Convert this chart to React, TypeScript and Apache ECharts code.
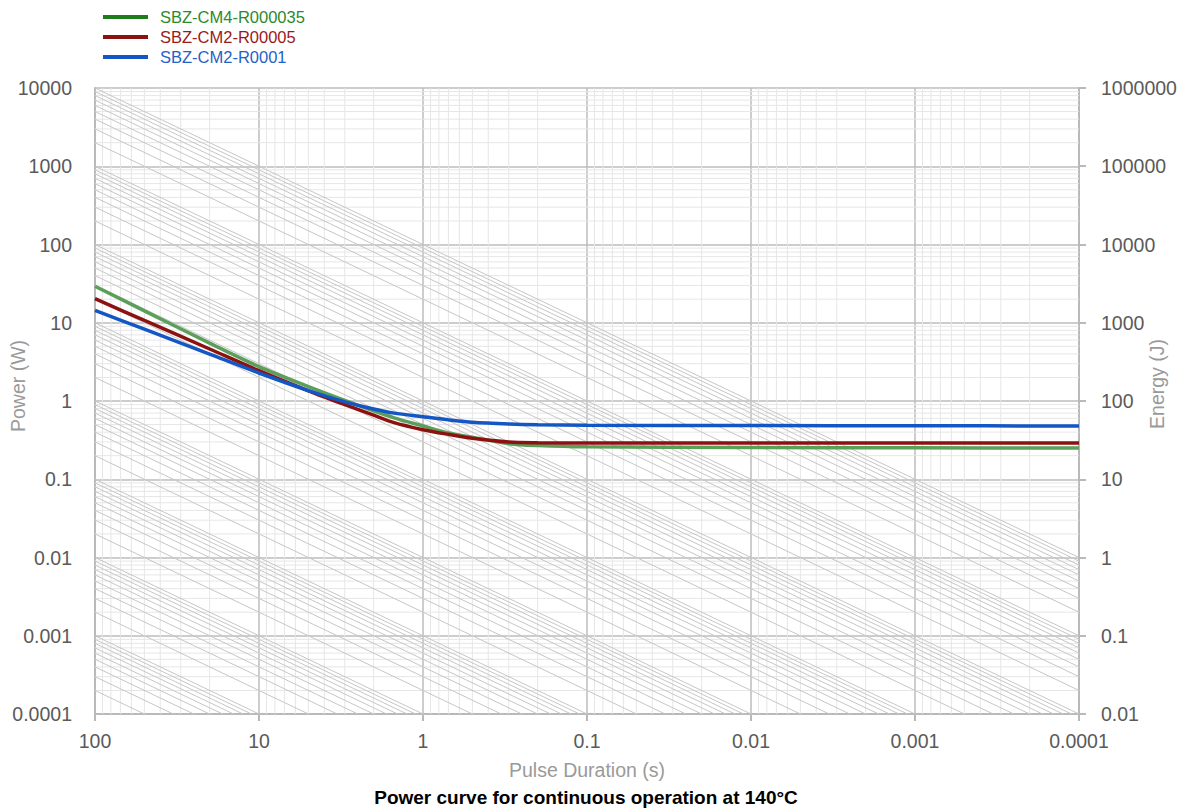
import React, { useEffect, useRef } from "react";
import * as echarts from "echarts";

// ---- Data ----
// Pulse durations (s) at which the three curves were read
const pulseDurations = [100, 50, 20, 10, 5, 3, 2, 1.5, 1, 0.7, 0.5, 0.3, 0.2, 0.1, 0.01, 0.001, 0.0001];
// Power (W)
const powerCM4R000035 = [29.3, 14.2, 5.5, 2.75, 1.53, 1.02, 0.75, 0.61, 0.48, 0.39, 0.345, 0.285, 0.27, 0.26, 0.255, 0.252, 0.25];
const powerCM2R00005 = [20.3, 10.7, 4.62, 2.44, 1.35, 0.9, 0.66, 0.53, 0.43, 0.375, 0.335, 0.3, 0.293, 0.29, 0.29, 0.29, 0.29];
const powerCM2R0001 = [14.4, 8.27, 3.97, 2.28, 1.36, 0.975, 0.79, 0.7, 0.63, 0.575, 0.535, 0.508, 0.497, 0.49, 0.485, 0.482, 0.48];

const seriesNames = ["SBZ-CM4-R000035", "SBZ-CM2-R00005", "SBZ-CM2-R0001"];

// Tick labels
const durationTickLabels = ["100", "10", "1", "0.1", "0.01", "0.001", "0.0001"];
const powerTickLabels = ["0.0001", "0.001", "0.01", "0.1", "1", "10", "100", "1000", "10000"];
const energyTickLabels = ["0.01", "0.1", "1", "10", "100", "1000", "10000", "100000", "1000000"];

// Log-paper grid construction
const minorMultipliers = [2, 3, 4, 5, 6, 7, 8, 9];
const durationDecades = [-4, -3, -2, -1, 0, 1];
const powerDecades = [-4, -3, -2, -1, 0, 1, 2, 3];
const refLineMultipliers = [1, 2, 3, 4, 5, 6, 7, 8, 9];
const refLineTopStart = 10000;

const X_MIN = 0.0001, X_MAX = 100, Y_MIN = 0.0001, Y_MAX = 10000;

function pickLabel(labels: string[], v: number) {
  const lv = Math.log10(v);
  const hit = labels.find((l) => Math.abs(Math.log10(parseFloat(l)) - lv) < 1e-6);
  return hit ?? "";
}

const FONT = "'Liberation Sans', Arial, Helvetica, sans-serif";

export default function App() {
  const ref = useRef<HTMLDivElement>(null);

  useEffect(() => {
    const chart = echarts.init(ref.current!, null, { renderer: "svg" });

    const minorSeries: any[] = [];
    durationDecades.forEach((d) =>
      minorMultipliers.forEach((m) => {
        const x = m * Math.pow(10, d);
        minorSeries.push({
          type: "line", silent: true, symbol: "none", z: 1, animation: false,
          lineStyle: { color: "#e6e6e6", width: 1 },
          data: [[x, Y_MIN], [x, Y_MAX]],
        });
      })
    );
    powerDecades.forEach((d) =>
      minorMultipliers.forEach((m) => {
        const y = m * Math.pow(10, d);
        minorSeries.push({
          type: "line", silent: true, symbol: "none", z: 1, animation: false,
          lineStyle: { color: "#e6e6e6", width: 1 },
          data: [[X_MIN, y], [X_MAX, y]],
        });
      })
    );

    const refStarts: number[] = [refLineTopStart];
    powerDecades.forEach((d) => refLineMultipliers.forEach((m) => refStarts.push(m * Math.pow(10, d))));
    const refSeries = refStarts.map((v) => ({
      type: "line", silent: true, symbol: "none", z: 2, animation: false, clip: true,
      lineStyle: { color: "#c6c6c6", width: 1 },
      data: [[X_MAX, v], [X_MIN, v * (X_MIN / X_MAX)]],
    }));

    const curveColors = ["#5b9f5b", "#8c1212", "#1456c4"];
    const curveData = [powerCM4R000035, powerCM2R00005, powerCM2R0001];
    const curves = seriesNames.map((name, i) => ({
      name, type: "line", symbol: "none", smooth: 0.3, z: 5, animation: false,
      lineStyle: { color: curveColors[i], width: 3.5 },
      itemStyle: { color: curveColors[i] },
      data: pulseDurations.map((t, j) => [t, curveData[i][j]]),
    }));

    const legendLine = ["#1d7d1d", "#8c1212", "#1456c4"];
    const legendText = ["#2b8a2b", "#9a1a1a", "#1f62c8"];

    const option: any = {
      animation: false,
      backgroundColor: "#ffffff",
      textStyle: { fontFamily: FONT },
      grid: { left: 95, right: 104, top: 88, bottom: 95, outerBoundsMode: "none" },
      title: {
        text: "Power curve for continuous operation at 140°C",
        left: 586, top: 788, textAlign: "center", padding: 0,
        textStyle: { fontFamily: FONT, fontSize: 19, fontWeight: "bold", color: "#000" },
      },
      legend: {
        orient: "vertical", left: 103, top: 7, padding: 0, itemGap: 0, itemWidth: 45, itemHeight: 4,
        icon: "rect", selectedMode: false,
        textStyle: { fontSize: 16.5, lineHeight: 20, padding: [0, 0, 0, 7], fontFamily: FONT },
        data: seriesNames.map((n, i) => ({
          name: n,
          itemStyle: { color: legendLine[i] },
          lineStyle: { color: legendLine[i] },
          textStyle: { color: legendText[i], fontSize: 16.5 },
        })),
      },
      xAxis: {
        type: "log", logBase: 10, inverse: true, min: X_MIN, max: X_MAX, interval: 1,
        name: "Pulse Duration (s)", nameLocation: "middle", nameGap: 46,
        nameTextStyle: { color: "#9a9a9a", fontSize: 19.5, fontFamily: FONT },
        axisLine: { show: true, lineStyle: { color: "#b9b9b9", width: 2 } },
        axisTick: { show: true, length: 7, lineStyle: { color: "#b9b9b9", width: 2 } },
        axisLabel: {
          color: "#5a5a5a", fontSize: 19.5, margin: 17, fontFamily: FONT,
          formatter: (v: number) => pickLabel(durationTickLabels, v),
        },
        splitLine: { show: true, lineStyle: { color: "#bdbdbd", width: 1.5 } },
      },
      yAxis: [
        {
          type: "log", logBase: 10, min: Y_MIN, max: Y_MAX, interval: 1, position: "left",
          axisLine: { show: true, lineStyle: { color: "#b9b9b9", width: 2 } },
          axisTick: { show: false },
          axisLabel: {
            color: "#5a5a5a", fontSize: 19.5, margin: 23, fontFamily: FONT,
            formatter: (v: number) => pickLabel(powerTickLabels, v),
          },
          splitLine: { show: true, lineStyle: { color: "#bdbdbd", width: 1.5 } },
        },
        {
          type: "log", logBase: 10, min: 0.01, max: 1000000, interval: 1, position: "right",
          axisLine: { show: true, lineStyle: { color: "#b9b9b9", width: 2 } },
          axisTick: { show: true, length: 7, lineStyle: { color: "#b9b9b9", width: 2 } },
          axisLabel: {
            color: "#5a5a5a", fontSize: 19.5, margin: 22, fontFamily: FONT,
            formatter: (v: number) => pickLabel(energyTickLabels, v),
          },
          splitLine: { show: false },
        },
      ],
      graphic: [
        {
          type: "text", x: 17.5, y: 386, rotation: Math.PI / 2,
          style: { text: "Power (W)", fontSize: 19.5, fontFamily: FONT, fill: "#9a9a9a", align: "center", verticalAlign: "middle" },
        },
        {
          type: "text", x: 1157, y: 384, rotation: Math.PI / 2,
          style: { text: "Energy (J)", fontSize: 19.5, fontFamily: FONT, fill: "#9a9a9a", align: "center", verticalAlign: "middle" },
        },
      ],
      series: [...minorSeries, ...refSeries, ...curves],
    };

    chart.setOption(option);
    return () => chart.dispose();
  }, []);

  return (
    <div
      ref={ref}
      style={{ position: "absolute", left: 0, top: 0, width: 1183, height: 809, background: "#fff" }}
    />
  );
}
